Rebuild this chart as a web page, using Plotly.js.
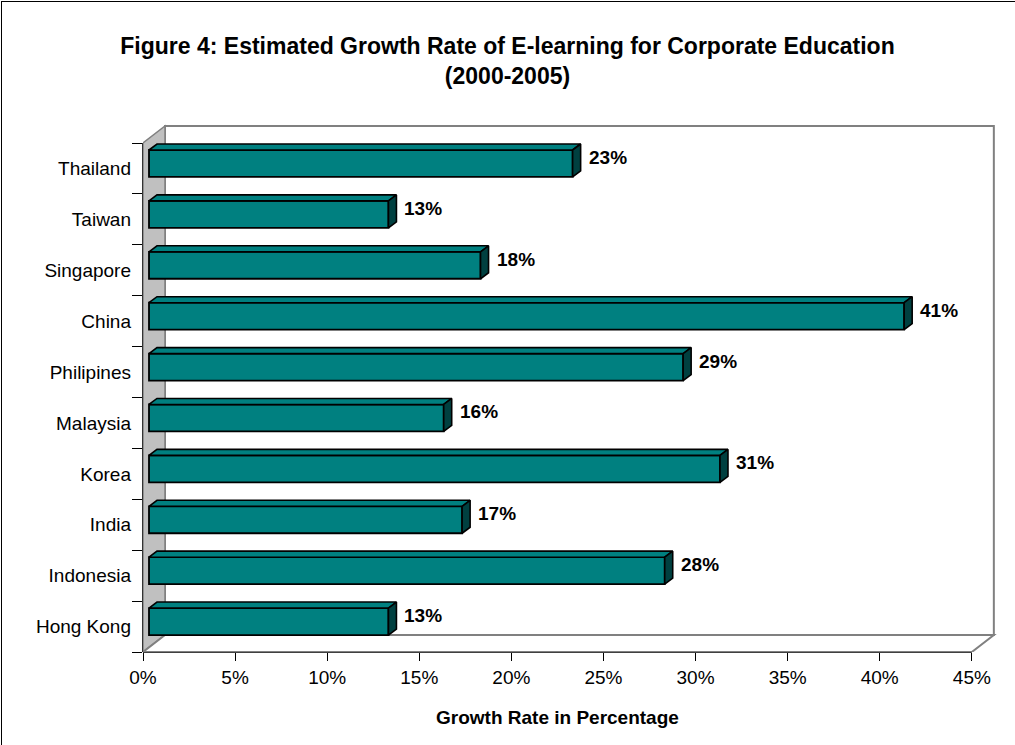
<!DOCTYPE html>
<html><head><meta charset="utf-8">
<script src="https://cdn.plot.ly/plotly-3.0.1.min.js"></script>
<style>
html,body{margin:0;padding:0;background:#fff;}
#wrap{position:relative;width:1015px;height:745px;overflow:hidden;}
#chart{position:absolute;left:0;top:0;width:1015px;height:745px;}
#frame{position:absolute;left:1px;top:1px;width:1014px;height:744px;border-left:1px solid #000;border-top:1px solid #000;pointer-events:none;box-sizing:border-box;}
</style></head><body>
<div id="wrap"><div id="chart"></div><div id="frame"></div></div>
<script>
// ---- data (bottom to top, as drawn) ----
const countries = ['Hong Kong','Indonesia','India','Korea','Malaysia','Philipines','China','Singapore','Taiwan','Thailand'];
const growth = [13, 28, 17, 31, 16, 29, 41, 18, 13, 23];
const xTicks = [0, 5, 10, 15, 20, 25, 30, 35, 40, 45];
const titleLines = ['Figure 4: Estimated Growth Rate of E-learning for Corporate Education', '(2000-2005)'];
const xTitle = 'Growth Rate in Percentage';

// ---- 3D look (axis units) ----
const xMax = 45;
const xRange = [0, 46.42];
const yRange = [-0.5, 9.913];
const wallDX = 1.194, wallDY = 0.334;   // depth of the walls
const barOffX = 0.326, barOffY = 0.098; // front face of bars inside the depth
const barDX = 0.434, barDY = 0.118;     // depth of each bar
const barW = 0.53;

const FONT = 'Liberation Sans, Arial, sans-serif';
const TEAL = '#008080', TEAL_DARK = '#004040', GRAY = '#808080', WALL = '#C0C0C0';

const idx = countries.map((c, i) => i);
const yb = -0.5, yt = countries.length - 0.5;

// faces of the bars
const topX = [], topY = [], sideX = [], sideY = [];
growth.forEach((v, i) => {
  const y0 = i - barW / 2, y1 = i + barW / 2;
  topX.push(0, v, v + barDX, barDX, 0, null);
  topY.push(y1, y1, y1 + barDY, y1 + barDY, y1, null);
  sideX.push(v, v + barDX, v + barDX, v, v, null);
  sideY.push(y0, y0 + barDY, y1 + barDY, y1, y0, null);
});

const traces = [
  {type: 'scatter', x: countries.map(() => 0), y: countries, xaxis: 'x', yaxis: 'y',
   mode: 'markers', marker: {opacity: 0}, hoverinfo: 'skip', showlegend: false},
  {type: 'scatter', x: [0], y: [0], xaxis: 'x', yaxis: 'y3',
   mode: 'markers', marker: {opacity: 0}, hoverinfo: 'skip', showlegend: false},
  {type: 'bar', orientation: 'h', x: growth, y: idx, width: barW, xaxis: 'x2', yaxis: 'y2',
   marker: {color: TEAL, line: {color: '#000', width: 1.8}}, hoverinfo: 'skip', showlegend: false},
  {type: 'scatter', x: topX, y: topY, xaxis: 'x2', yaxis: 'y2', mode: 'lines', fill: 'toself',
   fillcolor: TEAL, line: {color: '#000', width: 1.6}, hoverinfo: 'skip', showlegend: false},
  {type: 'scatter', x: sideX, y: sideY, xaxis: 'x2', yaxis: 'y2', mode: 'lines', fill: 'toself',
   fillcolor: TEAL_DARK, line: {color: '#000', width: 1.6}, hoverinfo: 'skip', showlegend: false}
];

const shapes = [
  // back wall
  {type: 'rect', xref: 'x', yref: 'y3', x0: wallDX, x1: xMax + wallDX, y0: yb + wallDY, y1: yt + wallDY,
   fillcolor: '#fff', line: {color: GRAY, width: 2}, layer: 'below'},
  // left wall
  {type: 'path', xref: 'x', yref: 'y3',
   path: `M0,${yb} L${wallDX},${yb + wallDY} L${wallDX},${yt + wallDY} L0,${yt} Z`,
   fillcolor: WALL, line: {color: GRAY, width: 1.5}, layer: 'below'},
  // floor
  {type: 'path', xref: 'x', yref: 'y3',
   path: `M0,${yb} L${xMax},${yb} L${xMax + wallDX},${yb + wallDY} L${wallDX},${yb + wallDY} Z`,
   fillcolor: '#fff', line: {color: GRAY, width: 2}, layer: 'below'},
  // axis lines
  {type: 'line', xref: 'x', yref: 'paper', x0: 0, x1: xMax, y0: 0, y1: 0,
   line: {color: '#000', width: 1.6}, layer: 'below'},
  {type: 'line', xref: 'paper', yref: 'y3', x0: 0, x1: 0, y0: yb, y1: yt,
   line: {color: '#000', width: 1.6}, layer: 'below'}
];

const annotations = growth.map((v, i) => ({
  xref: 'x2', yref: 'y2', x: v + barDX, y: i + barDY, xanchor: 'left', yanchor: 'middle',
  xshift: 6, showarrow: false, text: `<b>${v}%</b>`, font: {family: FONT, size: 19, color: '#000'}
}));
annotations.push({
  xref: 'x', yref: 'paper', x: xMax / 2, y: 0, yanchor: 'top', yshift: -53, showarrow: false,
  text: `<b>${xTitle}</b>`, font: {family: FONT, size: 19, color: '#000'}
});

const layout = {
  width: 1015, height: 745,
  margin: {l: 143, r: 17, t: 122, b: 93, pad: 0},
  paper_bgcolor: '#fff', plot_bgcolor: 'rgba(0,0,0,0)',
  showlegend: false, hovermode: false,
  title: {
    text: titleLines.map(s => `<b>${s}</b>`).join('<br>'),
    font: {family: FONT, size: 23, color: '#000'},
    x: 0.5, xref: 'container', xanchor: 'center',
    y: 1 - 54 / 745, yref: 'container', yanchor: 'top'
  },
  xaxis: {range: xRange, tickvals: xTicks, ticktext: xTicks.map(v => v + '%'),
          ticks: 'outside', ticklen: 8, tickwidth: 1, tickcolor: '#000',
          showgrid: false, zeroline: false, showline: false,
          tickfont: {family: FONT, size: 19, color: '#000'}, fixedrange: true},
  yaxis: {type: 'category', categoryorder: 'array', categoryarray: countries, range: yRange,
          tickson: 'boundaries', ticks: 'outside', ticklen: 10, tickwidth: 1, tickcolor: '#000',
          ticklabelstandoff: 11,
          showgrid: false, zeroline: false, showline: false,
          tickfont: {family: FONT, size: 19, color: '#000'}, fixedrange: true},
  yaxis3: {overlaying: 'y', anchor: 'x', range: yRange, visible: false, fixedrange: true},
  xaxis2: {overlaying: 'x', anchor: 'y2', range: [xRange[0] - barOffX, xRange[1] - barOffX], visible: false, fixedrange: true},
  yaxis2: {overlaying: 'y', anchor: 'x2', range: [yRange[0] - barOffY, yRange[1] - barOffY], visible: false, fixedrange: true},
  shapes: shapes,
  annotations: annotations
};

Plotly.newPlot('chart', traces, layout, {staticPlot: true, displayModeBar: false});
</script>
</body></html>
